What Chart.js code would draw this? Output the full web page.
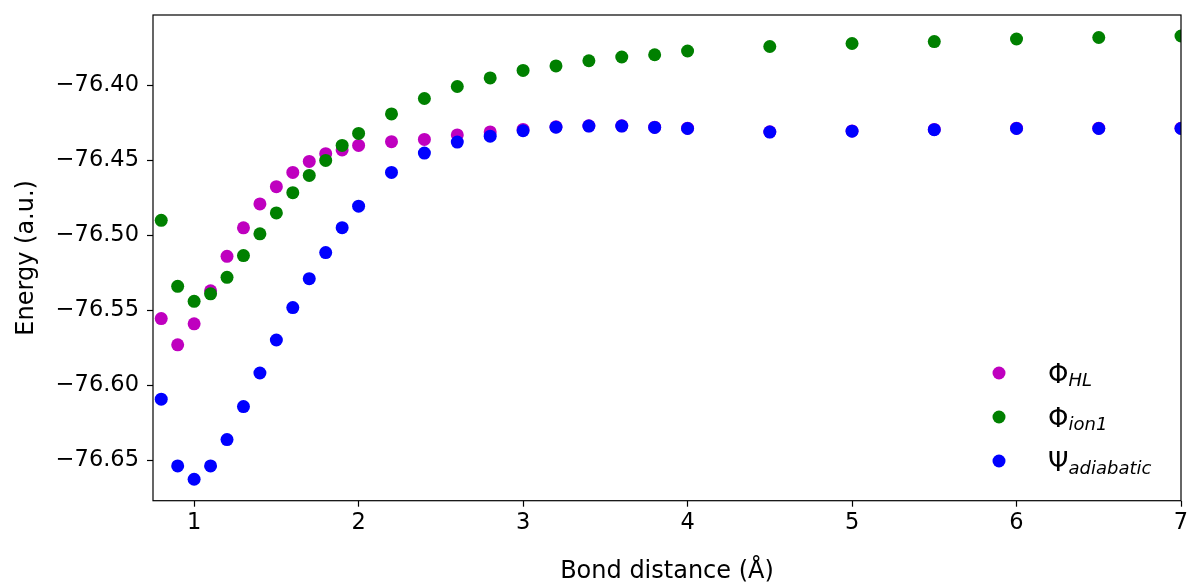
<!DOCTYPE html>
<html>
<head>
<meta charset="utf-8">
<script src="https://cdn.jsdelivr.net/npm/chart.js@4.4.1/dist/chart.umd.min.js"></script>
<style>
  html, body { margin: 0; padding: 0; background: #fff; }
  #wrap { width: 1189px; height: 584px; }
</style>
</head>
<body>
<div id="wrap"><canvas id="energyChart" width="1189" height="584"></canvas></div>
<script>
// bond distances (Å)
const bondDistance = [0.8, 0.9, 1.0, 1.1, 1.2, 1.3, 1.4, 1.5, 1.6, 1.7, 1.8, 1.9, 2.0,
    2.2, 2.4, 2.6, 2.8, 3.0, 3.2, 3.4, 3.6, 3.8, 4.0, 4.5, 5.0, 5.5, 6.0, 6.5, 7.0];

// energies (a.u.)
const energyHL = [-76.5555, -76.573, -76.559, -76.537, -76.514, -76.495, -76.479, -76.4675,
    -76.458, -76.4507, -76.4455, -76.443, -76.440, -76.4375, -76.436, -76.433, -76.431,
    -76.4293, -76.4276, -76.4269, -76.4269, -76.4278, -76.4285, -76.4309, -76.4303,
    -76.4293, -76.4285, -76.4285, -76.4285];
const energyIon1 = [-76.490, -76.534, -76.544, -76.539, -76.528, -76.5135, -76.499, -76.485,
    -76.4715, -76.460, -76.450, -76.440, -76.432, -76.419, -76.4087, -76.4007, -76.395,
    -76.390, -76.387, -76.3835, -76.381, -76.3795, -76.377, -76.374, -76.372, -76.3707,
    -76.369, -76.368, -76.367];
const energyAdiabatic = [-76.6093, -76.6538, -76.6627, -76.6538, -76.6362, -76.6142, -76.5918,
    -76.5698, -76.5482, -76.5289, -76.5115, -76.4949, -76.4805, -76.458, -76.4451, -76.4378,
    -76.4338, -76.4302, -76.4278, -76.4271, -76.4271, -76.428, -76.4287, -76.4311, -76.4305,
    -76.4295, -76.4287, -76.4287, -76.4287];

const xTicks = [1, 2, 3, 4, 5, 6, 7];
const yTicks = [-76.65, -76.60, -76.55, -76.50, -76.45, -76.40];

// legend: symbol + italic subscript
const legendBase = ['Φ', 'Φ', 'Ψ'];
const legendSub = ['HL', 'ion1', 'adiabatic'];

const FONT = '"DejaVu Sans", sans-serif';

function toPoints(ys) {
    return bondDistance.map((x, i) => ({ x: x, y: ys[i] }));
}

// frame around the plot (matplotlib spines)
const framePlugin = {
    id: 'frame',
    afterDraw(chart) {
        const a = chart.chartArea;
        const ctx = chart.ctx;
        ctx.save();
        ctx.strokeStyle = '#000';
        ctx.lineWidth = 1.2;
        ctx.strokeRect(a.left, a.top, a.right - a.left, a.bottom - a.top);
        ctx.restore();
    }
};

// legend with subscripts, lower right
const mathLegend = {
    id: 'mathLegend',
    afterDraw(chart) {
        const ctx = chart.ctx;
        chart.data.datasets.forEach((ds, i) => {
            const y = 373 + i * 44;
            ctx.save();
            ctx.fillStyle = ds.backgroundColor;
            ctx.beginPath();
            ctx.arc(999, y, 6.5, 0, Math.PI * 2);
            ctx.fill();
            ctx.fillStyle = '#000';
            ctx.textBaseline = 'alphabetic';
            ctx.font = '26px ' + FONT;
            ctx.fillText(legendBase[i], 1048, y + 9.5);
            const w = ctx.measureText(legendBase[i]).width;
            ctx.font = 'italic 18px ' + FONT;
            ctx.fillText(legendSub[i], 1048 + w, y + 12.5);
            ctx.restore();
        });
    }
};

const ctx = document.getElementById('energyChart').getContext('2d');

new Chart(ctx, {
    type: 'scatter',
    data: {
        datasets: [
            {
                label: 'ΦHL',
                data: toPoints(energyHL),
                backgroundColor: '#bf00bf',
                borderColor: '#bf00bf',
                order: 3
            },
            {
                label: 'Φion1',
                data: toPoints(energyIon1),
                backgroundColor: '#008000',
                borderColor: '#008000',
                order: 2
            },
            {
                label: 'Ψadiabatic',
                data: toPoints(energyAdiabatic),
                backgroundColor: '#0000ff',
                borderColor: '#0000ff',
                order: 1
            }
        ]
    },
    options: {
        responsive: false,
        animation: false,
        devicePixelRatio: 1,
        layout: { padding: { left: 0, right: 8, top: 15, bottom: 0 } },
        elements: {
            point: { radius: 6.5, borderWidth: 0, hoverRadius: 6.5 }
        },
        datasets: { scatter: { clip: 0 } },
        plugins: {
            legend: { display: false },
            tooltip: { enabled: false }
        },
        scales: {
            x: {
                type: 'linear',
                min: 0.75,
                max: 7,
                afterBuildTicks: (s) => { s.ticks = xTicks.map(v => ({ value: v })); },
                afterFit: (s) => {
                    s.height = 83.3;
                    s.paddingLeft = 0;
                    s.paddingRight = 0;
                },
                border: { display: false },
                grid: {
                    drawOnChartArea: false,
                    drawTicks: true,
                    tickLength: 6,
                    tickColor: '#000',
                    tickWidth: 1.2
                },
                ticks: {
                    color: '#000',
                    padding: 3,
                    font: { family: FONT, size: 22.5 },
                    callback: (v) => String(v)
                },
                title: {
                    display: true,
                    text: 'Bond distance (Å)',
                    color: '#000',
                    font: { family: FONT, size: 24, lineHeight: 1 },
                    padding: { top: 0, bottom: 0 }
                }
            },
            y: {
                type: 'linear',
                min: -76.677,
                max: -76.353,
                afterBuildTicks: (s) => { s.ticks = yTicks.map(v => ({ value: v })); },
                afterFit: (s) => {
                    s.width = 153;
                    s.paddingTop = 0;
                    s.paddingBottom = 0;
                },
                border: { display: false },
                grid: {
                    drawOnChartArea: false,
                    drawTicks: true,
                    tickLength: 6,
                    tickColor: '#000',
                    tickWidth: 1.2
                },
                ticks: {
                    color: '#000',
                    padding: 8,
                    font: { family: FONT, size: 22.5 },
                    callback: (v) => '\u2212' + Math.abs(v).toFixed(2)
                },
                title: {
                    display: true,
                    text: 'Energy (a.u.)',
                    color: '#000',
                    font: { family: FONT, size: 24, lineHeight: 1 },
                    padding: { top: 14.7, bottom: 0 }
                }
            }
        }
    },
    plugins: [framePlugin, mathLegend]
});
</script>
</body>
</html>
